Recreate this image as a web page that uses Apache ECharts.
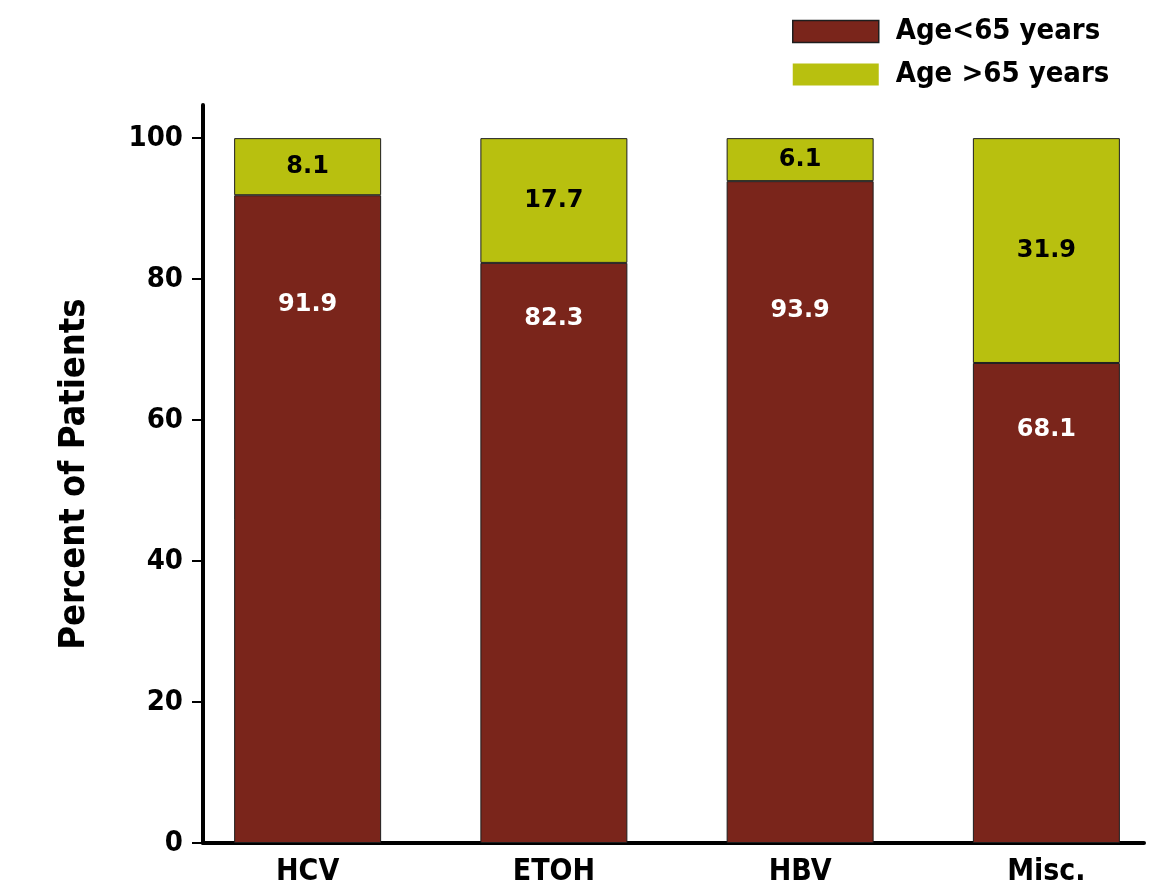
<!DOCTYPE html>
<html>
<head>
<meta charset="utf-8">
<title>Percent of Patients by Age Group</title>
<script src="https://cdn.jsdelivr.net/npm/echarts@6/dist/echarts.min.js"></script>
<style>
  html, body { margin: 0; padding: 0; background: #ffffff; }
  #chart { width: 1164px; height: 890px; }
</style>
</head>
<body>
<div id="chart"></div>
<script>
// Etiology groups and the share of patients in each age band (percent)
const categories = ['HCV', 'ETOH', 'HBV', 'Misc.'];
const under65 = [91.9, 82.3, 93.9, 68.1];
const over65 = [8.1, 17.7, 6.1, 31.9];
const seriesNames = ['Age<65 years', 'Age >65 years'];
const yTicks = [0, 20, 40, 60, 80, 100];

// Layout / style constants
const RED = '#7a251b';
const OLIVE = '#b8c00f';
const EDGE = '#1e1e1e';
const NARROW = "'Liberation Sans Narrow', 'DejaVu Sans Condensed', 'Roboto Condensed', sans-serif";
const LABEL_FONT = "'DejaVu Sans', 'Liberation Sans', sans-serif";
// distance (px) of each lower-segment label below the segment top
const lowerLabelDrop = [110, 56, 130, 67];

const Y_MAX = 104.7;
const TOP = 105, BOTTOM = 47;

const chart = echarts.init(document.getElementById('chart'), null, { renderer: 'canvas' });

const option = {
  backgroundColor: '#ffffff',
  animation: false,
  legend: {
    orient: 'vertical',
    left: 792,
    top: 17,
    itemWidth: 86,
    itemHeight: 22,
    itemGap: 14,
    icon: 'rect',
    padding: 0,
    textStyle: { fontFamily: NARROW, fontWeight: 'bold', fontSize: 29, color: '#000', padding: [0, 0, 0, 12] },
    data: [
      { name: seriesNames[0], itemStyle: { borderColor: EDGE, borderWidth: 1.5 } },
      { name: seriesNames[1], itemStyle: { borderWidth: 0 } }
    ]
  },
  grid: [
    // axis frame
    { left: 203, right: 20, top: TOP, bottom: BOTTOM, outerBoundsMode: 'none' },
    // bar area (category bands of equal width)
    { left: 184.5, width: 985, top: TOP, bottom: BOTTOM, outerBoundsMode: 'none' }
  ],
  xAxis: [
    {
      gridIndex: 0, type: 'value', min: 0, max: 1,
      axisLine: { show: true, onZero: false, lineStyle: { color: '#000', width: 4 } },
      axisTick: { show: false }, axisLabel: { show: false }, splitLine: { show: false }
    },
    {
      gridIndex: 1, type: 'category', data: categories,
      axisLine: { show: false }, axisTick: { show: false },
      axisLabel: { margin: 14, fontFamily: NARROW, fontWeight: 'bold', fontSize: 30, color: '#000' }
    }
  ],
  yAxis: [
    {
      gridIndex: 0, type: 'value', min: 0, max: Y_MAX,
      name: 'Percent of Patients', nameLocation: 'middle', nameGap: 110, nameRotate: 90,
      nameTextStyle: { fontFamily: NARROW, fontWeight: 'bold', fontSize: 36, color: '#000' },
      axisLine: { show: true, lineStyle: { color: '#000', width: 4 } },
      axisTick: { show: true, length: 11, customValues: yTicks, lineStyle: { color: '#000', width: 2 } },
      axisLabel: { margin: 20, customValues: yTicks, fontFamily: NARROW, fontWeight: 'bold', fontSize: 29, color: '#000' },
      splitLine: { show: false }
    },
    {
      gridIndex: 1, type: 'value', min: 0, max: Y_MAX, show: false
    }
  ],
  series: [
    {
      name: seriesNames[0], type: 'bar', stack: 'age', xAxisIndex: 1, yAxisIndex: 1,
      barWidth: 147,
      itemStyle: { color: RED, borderColor: EDGE, borderWidth: 1 },
      data: under65.map((v, i) => ({
        value: v,
        label: { position: ['50%', lowerLabelDrop[i]], align: 'center', verticalAlign: 'middle' }
      })),
      label: {
        show: true, color: '#ffffff', fontFamily: LABEL_FONT, fontWeight: 'bold', fontSize: 24,
        formatter: p => p.value.toFixed(1)
      }
    },
    {
      name: seriesNames[1], type: 'bar', stack: 'age', xAxisIndex: 1, yAxisIndex: 1,
      barWidth: 147,
      itemStyle: { color: OLIVE, borderColor: EDGE, borderWidth: 1 },
      data: over65,
      label: {
        show: true, position: 'inside', color: '#000000', fontFamily: LABEL_FONT, fontWeight: 'bold', fontSize: 24,
        formatter: p => p.value.toFixed(1)
      }
    }
  ]
};

chart.setOption(option);
</script>
</body>
</html>
